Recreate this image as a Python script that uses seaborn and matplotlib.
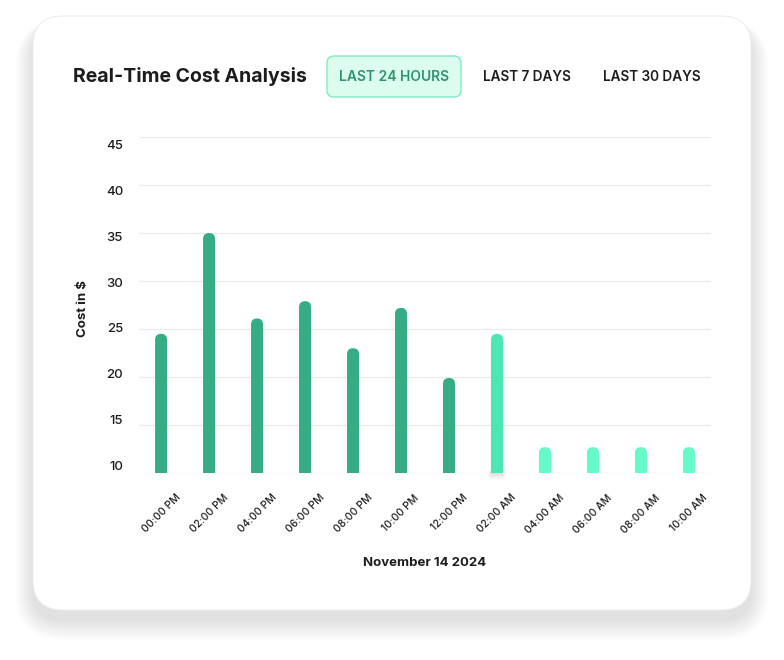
import matplotlib
matplotlib.use("Agg")
import matplotlib.pyplot as plt
from matplotlib.patches import FancyBboxPatch
from matplotlib.transforms import ScaledTranslation
import seaborn as sns
import pandas as pd

# ---- data ----
time_labels = ["00:00 PM", "02:00 PM", "04:00 PM", "06:00 PM", "08:00 PM", "10:00 PM",
               "12:00 PM", "02:00 AM", "04:00 AM", "06:00 AM", "08:00 AM", "10:00 AM"]
costs = [24.5, 35.0, 26.1, 27.9, 23.0, 27.2, 19.9, 24.5, 12.7, 12.7, 12.7, 12.7]
bar_colors = ["#34AD84"] * 7 + ["#4BE8B3"] + ["#64FBC8"] * 4
y_ticks = [10, 15, 20, 25, 30, 35, 40, 45]
title = "Real-Time Cost Analysis"
buttons = ["LAST 24 HOURS", "LAST 7 DAYS", "LAST 30 DAYS"]
x_title = "November 14 2024"
y_title = "Cost in $"

sns.set_theme(style="white")
plt.rcParams["font.family"] = ["Inter", "DejaVu Sans"]

W, H = 784, 660
fig = plt.figure(figsize=(W / 100, H / 100), dpi=100)
fig.patch.set_facecolor("white")

# ---- background card (pixel coordinates) ----
bg = fig.add_axes([0, 0, 1, 1], zorder=0)
bg.set_xlim(0, W)
bg.set_ylim(H, 0)
bg.axis("off")
cx0, cy0, cx1, cy1 = 33, 16, 751, 610
n = 30
for i in range(n, 0, -1):
    g = i * 1.0
    bg.add_patch(FancyBboxPatch((cx0 - g * 0.6, cy0 + 10 - g * 0.2), (cx1 - cx0) + g * 1.2,
                                (cy1 - cy0) + g * 0.9,
                                boxstyle="round,pad=0,rounding_size=%f" % (30 + g * 0.6),
                                facecolor="#000000", edgecolor="none", alpha=0.0038))
bg.add_patch(FancyBboxPatch((cx0, cy0), cx1 - cx0, cy1 - cy0,
                            boxstyle="round,pad=0,rounding_size=30",
                            facecolor="white", edgecolor="#EDEDED", linewidth=0.8))

# header
bg.text(73, 77, title, fontsize=14, fontweight="bold", color="#1C1C1C", va="center", ha="left")
bg.add_patch(FancyBboxPatch((327, 56), 134, 41, boxstyle="round,pad=0,rounding_size=7",
                            facecolor="#DCFCEE", edgecolor="#7FEBC4", linewidth=1.0))
bg.text(394, 77, buttons[0], fontsize=10, fontweight="semibold", color="#2E9470",
        ha="center", va="center")
bg.text(527, 77, buttons[1], fontsize=9.8, fontweight="semibold", color="#1C1C1C",
        ha="center", va="center")
bg.text(652, 77, buttons[2], fontsize=9.8, fontweight="semibold", color="#1C1C1C",
        ha="center", va="center")

# ---- chart axes ----
left, right, top, bottom = 139, 711, 137, 473
ax = fig.add_axes([left / W, 1 - bottom / H, (right - left) / W, (bottom - top) / H], zorder=2)
ax.patch.set_alpha(0)

df = pd.DataFrame({"time": time_labels, "cost": costs})
sns.barplot(data=df, x="time", y="cost", hue="time", palette=bar_colors, legend=False,
            width=0.25, saturation=1, ax=ax, zorder=3)
xm = 0.46
ax.set_xlim(-xm, len(time_labels) - 1 + xm)
ax.set_ylim(10, 45)

# round the tops of the bars
ppx = (right - left) / (len(time_labels) - 1 + 2 * xm)   # px per x unit
ppy = (bottom - top) / (45 - 10)                          # px per y unit
bar_px = []
for p in list(ax.patches):
    x, w, h = p.get_x(), p.get_width(), p.get_height()
    fc = p.get_facecolor()
    p.remove()
    r = w / 2
    ax.add_patch(FancyBboxPatch((x, 5), w, h - 5, boxstyle="round,pad=0,rounding_size=%f" % r,
                                mutation_aspect=ppx / ppy, facecolor=fc, edgecolor="none",
                                zorder=3, clip_on=True))
    bar_px.append(left + (x + w / 2 + xm) * ppx)

# soft shadow under the highlighted bar
hi = 7
cxp = bar_px[hi]
for k in range(8):
    bg.add_patch(FancyBboxPatch((cxp - 5 - k * 0.5, bottom - 3), 10 + k * 1.0, 3 + k * 0.9,
                                boxstyle="round,pad=0,rounding_size=2",
                                facecolor="#000000", edgecolor="none", alpha=0.02, zorder=1))

ax.set_yticks(y_ticks)
ax.set_yticklabels([str(t) for t in y_ticks])
ax.yaxis.grid(True, color="#EBEBEB", linewidth=0.9)
ax.xaxis.grid(False)
ax.set_axisbelow(True)
for s in ax.spines.values():
    s.set_visible(False)
ax.tick_params(axis="y", length=0, pad=11.5, labelsize=9.5, labelcolor="#1C1C1C")
ax.tick_params(axis="x", length=0, pad=14, labelsize=7.5, labelcolor="#1C1C1C")
for lab in ax.get_xticklabels():
    lab.set_rotation(45)
    lab.set_ha("center")
    lab.set_va("top")
    lab.set_fontweight("medium")
# y labels sit slightly inside the gridline range, like the reference
for t, lab in zip(y_ticks, ax.get_yticklabels()):
    d = (t - 27.5) / 17.5 * 7.5
    lab.set_transform(lab.get_transform() + ScaledTranslation(0, -d / 100, fig.dpi_scale_trans))
    lab.set_fontweight("medium")

ax.set_xlabel("")
ax.set_ylabel("")
fig.text(425 / W, 1 - 563 / H, x_title, fontsize=9.5, fontweight="bold", color="#1C1C1C",
         ha="center", va="center")
fig.text(83 / W, 1 - 309 / H, y_title, fontsize=9.5, fontweight="bold", color="#1C1C1C",
         ha="center", va="center", rotation=90)

fig.savefig("out.png", dpi=100, facecolor="white")
